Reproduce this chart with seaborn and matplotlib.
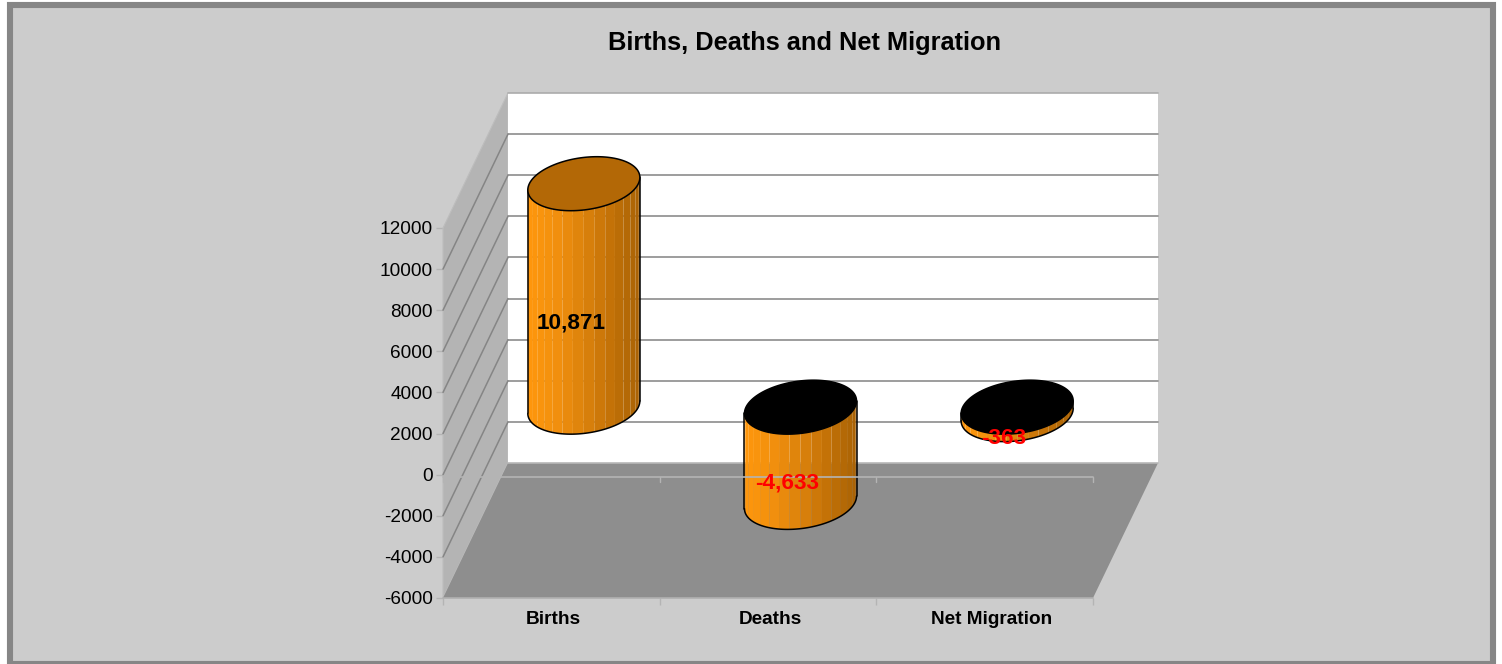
"""Births, deaths and net migration as an Excel-style 3D cylinder chart."""
import matplotlib
matplotlib.use("Agg")
import matplotlib.pyplot as plt
import numpy as np
import seaborn as sns
from matplotlib.colors import LinearSegmentedColormap
from matplotlib.patches import Polygon, Rectangle
from matplotlib.transforms import ScaledTranslation

categories = ["Births", "Deaths", "Net Migration"]
values = [10871, -4633, -363]
y_ticks = [-6000, -4000, -2000, 0, 2000, 4000, 6000, 8000, 10000, 12000]

W, H = 1502, 664
# oblique depth of the plot box, in data units (65px across, 135px up)
DEPTH_X = 0.3
DEPTH_Y = 6568
RADIUS_DEPTH = 0.2  # cylinder radius along the depth axis, as share of the box

sns.set_theme(style="white")
plt.rcParams["font.family"] = "Liberation Sans"

shade = LinearSegmentedColormap.from_list(
    "cyl", ["#FF970C", "#F2900E", "#DC820C", "#C27107", "#A96205"])


def offset(x, y, depth):
    return x + depth * DEPTH_X, y + depth * DEPTH_Y


def draw_box(ax, xmin, xmax, ymin, ymax):
    left = [(xmin, ymin), (xmin, ymax), offset(xmin, ymax, 1), offset(xmin, ymin, 1)]
    back = [offset(xmin, ymin, 1), offset(xmin, ymax, 1),
            offset(xmax, ymax, 1), offset(xmax, ymin, 1)]
    floor = [(xmin, ymin), (xmax, ymin), offset(xmax, ymin, 1), offset(xmin, ymin, 1)]
    ax.add_patch(Polygon(left, fc="#B4B4B4", ec="#BDBDBD", lw=0.8, clip_on=False, zorder=1))
    ax.add_patch(Polygon(back, fc="white", ec="none", clip_on=False, zorder=1))
    ax.add_patch(Polygon(floor, fc="#8E8E8E", ec="none", clip_on=False, zorder=1.2))

    # only the top of the back wall and the long floor edges carry a light rule
    tx0, ty = offset(xmin, ymax, 1)
    tx1, _ = offset(xmax, ymax, 1)
    ax.plot([tx0, tx1], [ty, ty], color="#ABABAB", lw=1.2, clip_on=False, zorder=1.3)
    fx0, fy = offset(xmin, ymin, 1)
    fx1, _ = offset(xmax, ymin, 1)
    ax.plot([fx0, fx1], [fy, fy], color="#B8B8B8", lw=1.2, clip_on=False, zorder=1.3)
    ax.plot([xmin, xmax], [ymin, ymin], color="#B0B0B0", lw=1.2, clip_on=False, zorder=1.3)

    # gridlines run along the side wall and across the back wall
    for tick in y_ticks[1:-1]:
        bx, by = offset(xmin, tick, 1)
        ex, ey = offset(xmax, tick, 1)
        ax.plot([xmin, bx], [tick, by], color="#858585", lw=1.1,
                clip_on=False, zorder=1.1)
        ax.plot([bx, ex], [by, ey], color="#8C8C8C", lw=1.2,
                clip_on=False, zorder=1.1)


def draw_cylinder(ax, xc, half_width, value):
    cx, base_y = offset(xc, 0, 0.5)
    top_y = base_y + value

    # screen size of one data unit decides where the silhouette sits
    to_px = ax.transData.get_matrix()
    sx = to_px[0, 0]
    rd_x = RADIUS_DEPTH * DEPTH_X
    rd_y = RADIUS_DEPTH * DEPTH_Y
    t0 = np.arctan2(rd_x * sx, half_width * sx)

    def ring(t, y0):
        return cx + half_width * np.cos(t) + rd_x * np.sin(t), y0 + rd_y * np.sin(t)

    # front half of the wall, cut in facets like the old 3D renderer did
    edges = np.linspace(t0 + np.pi, t0 + 2 * np.pi, 17)
    x_lo, x_hi = cx - half_width * 1.03, cx + half_width * 1.03
    hi_y, lo_y = max(base_y, top_y), min(base_y, top_y)
    for a, b in zip(edges[:-1], edges[1:]):
        xa, ya_lo = ring(a, lo_y)
        xb, yb_lo = ring(b, lo_y)
        _, ya_hi = ring(a, hi_y)
        _, yb_hi = ring(b, hi_y)
        colour = shade(((xa + xb) / 2 - x_lo) / (x_hi - x_lo))
        ax.add_patch(Polygon([(xa, ya_lo), (xb, yb_lo), (xb, yb_hi), (xa, ya_hi)],
                             fc=colour, ec="none", clip_on=False, zorder=3))

    # outline of the wall
    t = np.linspace(t0 + np.pi, t0 + 2 * np.pi, 90)
    xs, ys = ring(t, lo_y)
    ax.plot(xs, ys, color="black", lw=1.1, clip_on=False, zorder=3.2)
    for edge in (t0 + np.pi, t0):
        ex, ey_lo = ring(edge, lo_y)
        _, ey_hi = ring(edge, hi_y)
        ax.plot([ex, ex], [ey_lo, ey_hi], color="black", lw=1.1,
                clip_on=False, zorder=3.2)

    # cap: lit for a positive bar, black (the inside) for a negative one
    t = np.linspace(0, 2 * np.pi, 180)
    xs, ys = ring(t, hi_y)
    ax.add_patch(Polygon(np.column_stack([xs, ys]),
                         fc="#B36806" if value > 0 else "black",
                         ec="black", lw=1.1, clip_on=False, zorder=3.4))

    # label sits on the front of the cylinder, halfway up
    ax.text(cx - rd_x, (base_y + top_y) / 2 - rd_y - 40, f"{round(value):,}",
            ha="center", va="center", fontsize=16.2, fontweight="bold",
            color="black" if value > 0 else "#FF0000", zorder=6)


def main() -> None:
    fig = plt.figure(figsize=(W / 100, H / 100), dpi=100, facecolor="white")
    fig.add_artist(Rectangle((10 / W, 0), 1483 / W, 659 / H, transform=fig.transFigure,
                             fc="#CCCCCC", ec="#868686", lw=4.4, zorder=-5))

    ax = fig.add_axes([443 / W, 1 - 598 / H, 650 / W, 370 / H])
    ax.patch.set_visible(False)
    sns.barplot(x=categories, y=values, width=0.503, ax=ax)
    bars = [(p.get_x() + p.get_width() / 2, p.get_width() / 2, p.get_height())
            for p in ax.patches]
    for p in list(ax.patches):
        p.remove()

    xmin, xmax = -0.5, 2.5
    ymin, ymax = y_ticks[0], y_ticks[-1]
    ax.set_xlim(xmin, xmax)
    ax.set_ylim(ymin, ymax)
    ax.set_xlabel("")
    ax.set_ylabel("")
    sns.despine(ax=ax, left=True, bottom=True)

    ax.set_yticks(y_ticks)
    ax.set_yticklabels([str(t) for t in y_ticks])
    ax.tick_params(axis="y", length=5, width=1, color="#B4B4B4", pad=2.5,
                   labelsize=13.7, labelcolor="black", left=True)
    ax.set_xticks(range(len(categories)), categories)
    ax.tick_params(axis="x", which="major", length=0, pad=9, labelsize=13.7)
    for label, shift in zip(ax.get_xticklabels(), (2, 2, 7)):
        label.set_fontweight("bold")
        label.set_color("black")
        label.set_transform(label.get_transform()
                            + ScaledTranslation(shift / 100, 0, fig.dpi_scale_trans))
    ax.set_xticks(np.arange(xmin, xmax + 0.5), minor=True)
    ax.tick_params(axis="x", which="minor", length=5, width=1, color="#B4B4B4",
                   bottom=True)

    draw_box(ax, xmin, xmax, ymin, ymax)
    for xc, half_width, value in bars:
        draw_cylinder(ax, xc, half_width, value)

    # category axis just under the zero level, in front of the bars
    ax.plot([xmin, xmax], [-90, -90], color="#B4B4B4", lw=1.2, clip_on=False, zorder=4)
    for xt in np.arange(xmin, xmax + 0.5):
        ax.plot([xt, xt], [-90, -360], color="#B4B4B4", lw=1, clip_on=False, zorder=4)

    fig.text(805 / W, 1 - 43 / H, "Births, Deaths and Net Migration", ha="center",
             va="center", fontsize=18.3, fontweight="bold", color="black")
    fig.savefig("out.png", dpi=100, facecolor=fig.get_facecolor())
    plt.close(fig)


if __name__ == "__main__":
    main()
